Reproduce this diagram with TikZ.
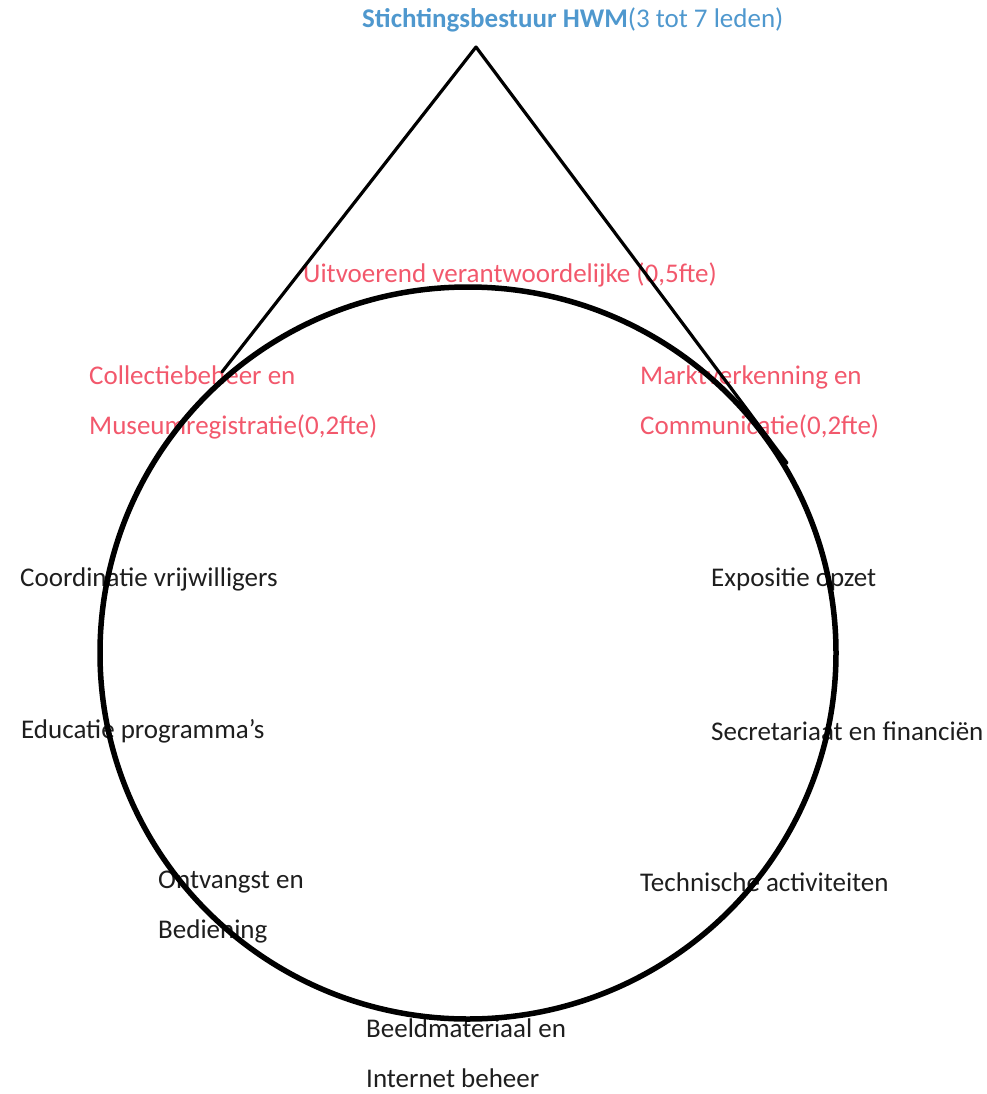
\documentclass[tikz,border=0pt]{standalone}
\usepackage{fontspec}
\setmainfont{Carlito}
\definecolor{hwmblue}{RGB}{79,152,206}
\definecolor{hwmred}{RGB}{242,88,108}
\definecolor{hwmtext}{RGB}{30,30,30}
\begin{document}
\begin{tikzpicture}[x=1pt,y=-1pt,
  lbl/.style={anchor=west,inner sep=0pt,align=left,font=\fontsize{27}{50}\selectfont},
  redlbl/.style={lbl,text=hwmred},
  blacklbl/.style={lbl,text=hwmtext},
  shapeline/.style={draw=black,line cap=round,line join=round}]
\useasboundingbox (0,0) rectangle (987,1094);
% labels
\node[lbl,text=hwmblue] (title) at (362,20) {\textbf{Stichtingsbestuur HWM}(3 tot 7 leden)};
\node[redlbl] (uitv) at (303,275) {Uitvoerend verantwoordelijke (0,5fte)};
\node[redlbl] (coll) at (89,402) {Collectiebeheer en\\Museumregistratie(0,2fte)};
\node[redlbl] (markt) at (640,402) {Marktverkenning en\\Communicatie(0,2fte)};
\node[blacklbl] (coord) at (20,579) {Coordinatie vrijwilligers};
\node[blacklbl] (educ) at (21,731) {Educatie programma’s};
\node[blacklbl] (expo) at (711,579) {Expositie opzet};
\node[blacklbl] (secr) at (711,731) {Secretariaat en financiën};
\node[blacklbl] (ontv) at (158,907) {Ontvangst en\\Bediening};
\node[blacklbl] (tech) at (640,882) {Technische activiteiten};
\node[blacklbl] (beeld) at (366,1053) {Beeldmateriaal en\\Internet beheer};
% shape
\coordinate (apex) at (476,47);
\coordinate (lend) at (222,372);
\coordinate (rend) at (787,463);
\draw[shapeline,line width=3.2pt] (lend) -- (apex) -- (rend);
\draw[shapeline,line width=5.5pt] (468,653) ellipse [x radius=368, y radius=366];
\end{tikzpicture}
\end{document}
